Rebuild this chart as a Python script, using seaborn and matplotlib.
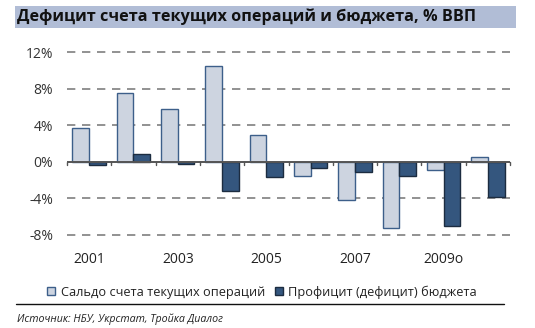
import matplotlib
matplotlib.use("Agg")
import matplotlib.pyplot as plt
import matplotlib.patches as mpatches
import seaborn as sns
import pandas as pd

years = ["2001", "2002", "2003", "2004", "2005", "2006", "2007", "2008", "2009о", "2010п"]
current_account = [3.7, 7.5, 5.8, 10.5, 2.9, -1.5, -4.2, -7.2, -0.9, 0.5]
budget_balance = [-0.3, 0.8, -0.2, -3.2, -1.7, -0.7, -1.1, -1.5, -7.0, -3.9]
series_names = ["Сальдо счета текущих операций", "Профицит (дефицит) бюджета"]
y_ticks = [12, 8, 4, 0, -4, -8]
shown_years = ["2001", "2003", "2005", "2007", "2009о"]

fill_colors = ["#cdd4e0", "#34567e"]
edge_colors = ["#3d5f8a", "#1c2c40"]

df = pd.DataFrame({
    "year": years * 2,
    "value": current_account + budget_balance,
    "series": [series_names[0]] * len(years) + [series_names[1]] * len(years),
})

sns.set_theme(style="white")
plt.rcParams["font.family"] = ["Open Sans", "DejaVu Sans"]

fig = plt.figure(figsize=(5.35, 3.28), dpi=100)
ax = fig.add_axes([67 / 535, 1 - 235 / 328, (510 - 67) / 535, (235 - 52) / 328])

sns.barplot(data=df, x="year", y="value", hue="series", order=years,
            hue_order=series_names, palette=fill_colors, width=0.754,
            gap=0, saturation=1, legend=False, ax=ax)

# outline each bar with its series' edge colour
n = len(years)
for i, patch in enumerate(ax.patches[:2 * n]):
    patch.set_edgecolor(edge_colors[i // n])
    patch.set_linewidth(1.0)

ax.set_ylim(-8, 12)
ax.set_xlim(-0.5, n - 0.5)
ax.set_yticks(y_ticks)
ax.set_yticklabels([f"{v}%" for v in y_ticks], color="#333333", fontsize=10)
ax.tick_params(axis="y", length=0, pad=10)

# dashed gridlines (except zero)
for v in y_ticks:
    if v != 0:
        ax.axhline(v, color="#7f7f7f", lw=1.2, ls=(0, (5, 4)), zorder=0, clip_on=False)
ax.axhline(0, color="#555555", lw=1.4, zorder=3)
# small tick marks between categories on the zero line
for b in range(n + 1):
    ax.plot([b - 0.5, b - 0.5], [0, -0.35], color="#555555", lw=1.0, zorder=3, clip_on=False)

shown_pos = [years.index(y) for y in shown_years]
ax.set_xticks(shown_pos)
ax.set_xticklabels(shown_years, color="#222222", fontsize=10)
ax.tick_params(axis="x", length=0, pad=12)
ax.set_xlabel("")
ax.set_ylabel("")
for s in ax.spines.values():
    s.set_visible(False)

# title banner
fig.patches.append(mpatches.Rectangle((15 / 535, 1 - 28 / 328), (516 - 15) / 535, 22 / 328,
                                      transform=fig.transFigure, facecolor="#b1bdd6",
                                      edgecolor="none", zorder=0))
fig.text(17 / 535, 1 - 17 / 328, "Дефицит счета текущих операций и бюджета, % ВВП",
         fontsize=11.7, fontweight="bold", color="#111111", va="center", ha="left")

handles = [mpatches.Patch(facecolor=fill_colors[k], edgecolor=edge_colors[k], lw=1.0)
           for k in range(2)]
fig.legend(handles, series_names, loc="center", bbox_to_anchor=(0.49, 1 - 292 / 328),
           ncol=2, frameon=False, fontsize=9.2, handlelength=0.6, handleheight=0.6,
           handletextpad=0.45, columnspacing=0.8, labelcolor="#222222")

fig.add_artist(plt.Line2D([16 / 535, 504 / 535], [1 - 304 / 328, 1 - 304 / 328],
                          transform=fig.transFigure, color="#111111", lw=1.0))
fig.text(17 / 535, 1 - 319 / 328, "Источник: НБУ, Укрстат, Тройка Диалог",
         fontsize=7.7, style="italic", color="#222222", va="center", ha="left")

fig.savefig("out.png", dpi=100)
